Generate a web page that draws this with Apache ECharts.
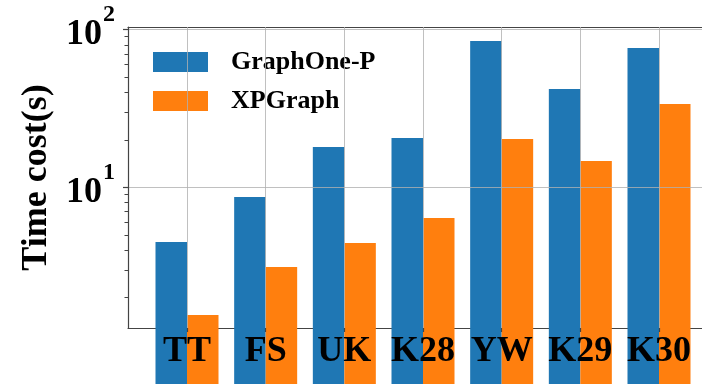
<!DOCTYPE html>
<html><head><meta charset="utf-8">
<script src="https://cdn.jsdelivr.net/npm/echarts@6/dist/echarts.min.js"></script>
<style>html,body{margin:0;padding:0;background:#fff}#c{width:702px;height:384px}</style>
</head><body><div id="c"></div>
<script>
const categories = ['TT', 'FS', 'UK', 'K28', 'YW', 'K29', 'K30'];
const graphOneP = [4.50, 8.68, 18.0, 20.5, 84.6, 42.0, 76.4];
const xpGraph = [1.55, 3.13, 4.43, 6.39, 20.2, 14.7, 33.7];
const majorTicks = [10, 100];
const minorTicks = [2, 3, 4, 5, 6, 7, 8, 9, 20, 30, 40, 50, 60, 70, 80, 90];
const yMin = 1.283, yMax = 103.7, barBase = 0.567;

const FONT = 'Liberation Serif';
const AXC = '#444';
const chart = echarts.init(document.getElementById('c'), null, {renderer: 'canvas'});
const lineOnly = (pos) => ({
  gridIndex: 0, type: 'value', min: 0, max: 1, position: pos,
  axisLine: {show: true, lineStyle: {color: AXC, width: 1.2}},
  axisTick: {show: false}, axisLabel: {show: false}, splitLine: {show: false}
});
chart.setOption({
  animation: false,
  grid: [
    {left: 128, right: 0, top: 27, height: 301},
    {left: 187, right: 43, top: 27, height: 301}
  ],
  legend: {
    orient: 'vertical', left: 153, top: 49, padding: 0,
    itemWidth: 55, itemHeight: 20, itemGap: 13, icon: 'rect',
    textStyle: {fontFamily: FONT, fontSize: 26, fontWeight: 'bold', color: '#000', padding: [0, 0, 0, 18]},
    data: ['GraphOne-P', 'XPGraph']
  },
  xAxis: [
    lineOnly('bottom'),
    lineOnly('top'),
    {
      gridIndex: 1, type: 'category', data: categories, boundaryGap: false, position: 'bottom', z: 5,
      axisLine: {show: false},
      axisTick: {show: true, length: 4, lineStyle: {color: AXC, width: 1.2}},
      axisLabel: {interval: 0, margin: 6, fontFamily: FONT, fontSize: 36, fontWeight: 'bold', color: '#000'},
      splitLine: {show: true, lineStyle: {color: '#b0b0b0', width: 1, opacity: 0.8}}
    }
  ],
  yAxis: [
    {
      gridIndex: 0, type: 'log', min: yMin, max: yMax, position: 'left', z: 5,
      axisLine: {show: true, lineStyle: {color: AXC, width: 1.2}},
      axisTick: {show: true, length: 5, customValues: majorTicks, lineStyle: {color: AXC, width: 1.2}},
      axisLabel: {
        customValues: majorTicks, margin: 13,
        formatter: v => '{b|10}{s|' + Math.round(Math.log10(v)) + '}',
        rich: {
          b: {fontFamily: FONT, fontSize: 36, fontWeight: 'bold', color: '#000', padding: [10, 0, 0, 0]},
          s: {fontFamily: FONT, fontSize: 24, fontWeight: 'bold', color: '#000', padding: [0, 0, 29, 1]}
        }
      },
      splitLine: {show: true, lineStyle: {color: '#b0b0b0', width: 1, opacity: 0.8}},
      name: 'Time cost(s)', nameLocation: 'middle', nameRotate: 90, nameGap: 67,
      nameTextStyle: {fontFamily: FONT, fontSize: 36, fontWeight: 'bold', color: '#000'}
    },
    {
      gridIndex: 0, type: 'log', min: yMin, max: yMax, position: 'left',
      axisLine: {show: false},
      axisTick: {show: true, length: 3.5, customValues: minorTicks, lineStyle: {color: AXC, width: 1}},
      axisLabel: {show: false}, splitLine: {show: false}
    },
    {gridIndex: 1, type: 'log', min: yMin, max: yMax, startValue: barBase, show: false}
  ],
  series: [
    {type: 'bar', name: 'GraphOne-P', xAxisIndex: 2, yAxisIndex: 2, data: graphOneP,
     barWidth: 31.5, barGap: '0%', clip: false, itemStyle: {color: '#1f77b4'}},
    {type: 'bar', name: 'XPGraph', xAxisIndex: 2, yAxisIndex: 2, data: xpGraph,
     barWidth: 31.5, barGap: '0%', clip: false, itemStyle: {color: '#ff7f0e'}}
  ]
});
</script></body></html>
